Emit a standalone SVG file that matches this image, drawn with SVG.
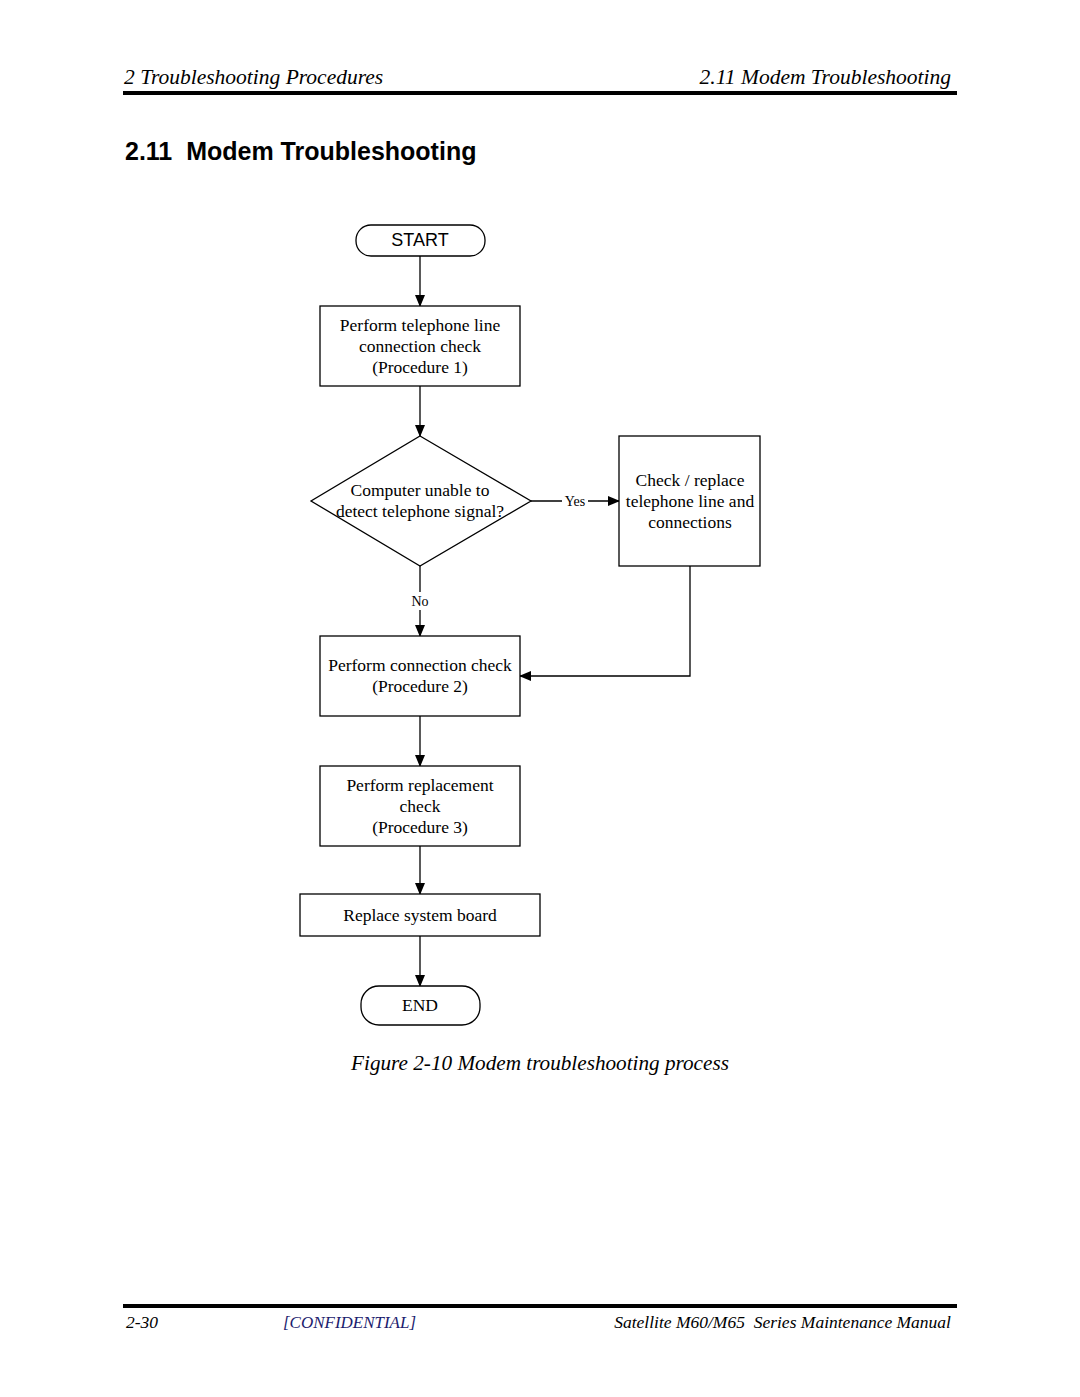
<svg xmlns="http://www.w3.org/2000/svg" width="1080" height="1397" viewBox="0 0 1080 1397">
<style>
.hdr{font-family:"Liberation Serif","Times New Roman",serif;font-style:italic;font-size:21.5px;fill:#000}
.cap{font-family:"Liberation Serif","Times New Roman",serif;font-style:italic;font-size:21.2px;fill:#000}
.ttl{font-family:"Liberation Sans",Arial,sans-serif;font-weight:bold;font-size:25px;fill:#000}
.box{fill:#fff;stroke:#000;stroke-width:1.3}
.t{font-family:"Liberation Serif","Times New Roman",serif;font-size:17.5px;fill:#000;text-anchor:middle}
.ts{font-family:"Liberation Sans",Arial,sans-serif;font-size:18px;fill:#000;text-anchor:middle}
.lbl{font-family:"Liberation Serif","Times New Roman",serif;font-size:14px;fill:#000;text-anchor:middle}
.ln{fill:none;stroke:#000;stroke-width:1.3}
.ftr{font-family:"Liberation Serif","Times New Roman",serif;font-style:italic;font-size:17.5px;fill:#000}
</style>
<defs>
<marker id="ah" markerWidth="12" markerHeight="10" refX="11" refY="5" orient="auto" markerUnits="userSpaceOnUse">
<path d="M0,0 L12,5 L0,10 z" fill="#000"/>
</marker>
</defs>
<rect width="1080" height="1397" fill="#fff"/>
<g id="header">
<text class="hdr" x="124" y="84">2 Troubleshooting Procedures</text>
<text class="hdr" x="951" y="84" text-anchor="end">2.11 Modem Troubleshooting</text>
<rect x="123" y="91" width="834" height="4" fill="#000"/>
</g>
<text class="ttl" x="125" y="160" xml:space="preserve">2.11  Modem Troubleshooting</text>
<g id="connectors">
<line class="ln" x1="420" y1="256" x2="420" y2="306" marker-end="url(#ah)"/>
<line class="ln" x1="420" y1="386" x2="420" y2="436" marker-end="url(#ah)"/>
<line class="ln" x1="531" y1="501" x2="619" y2="501" marker-end="url(#ah)"/>
<rect x="562" y="493" width="26" height="16" fill="#fff"/>
<text class="lbl" x="575" y="506">Yes</text>
<line class="ln" x1="420" y1="566" x2="420" y2="636" marker-end="url(#ah)"/>
<rect x="408" y="592" width="24" height="18" fill="#fff"/>
<text class="lbl" x="420" y="606">No</text>
<polyline class="ln" points="690,566 690,676 520,676" marker-end="url(#ah)"/>
<line class="ln" x1="420" y1="716" x2="420" y2="766" marker-end="url(#ah)"/>
<line class="ln" x1="420" y1="846" x2="420" y2="894" marker-end="url(#ah)"/>
<line class="ln" x1="420" y1="936" x2="420" y2="986" marker-end="url(#ah)"/>
</g>
<g id="start">
<rect class="box" x="356" y="225" width="129" height="31" rx="15" ry="15"/>
<text class="ts" x="420" y="246">START</text>
</g>
<g id="proc1">
<rect class="box" x="320" y="306" width="200" height="80"/>
<text class="t" x="420" y="331">Perform telephone line</text>
<text class="t" x="420" y="352">connection check</text>
<text class="t" x="420" y="373">(Procedure 1)</text>
</g>
<g id="decision">
<polygon class="box" points="420,436 531,501 420,566 311,501"/>
<text class="t" x="420" y="496">Computer unable to</text>
<text class="t" x="420" y="517">detect telephone signal?</text>
</g>
<g id="check">
<rect class="box" x="619" y="436" width="141" height="130"/>
<text class="t" x="690" y="486">Check / replace</text>
<text class="t" x="690" y="507">telephone line and</text>
<text class="t" x="690" y="528">connections</text>
</g>
<g id="proc2">
<rect class="box" x="320" y="636" width="200" height="80"/>
<text class="t" x="420" y="671">Perform connection check</text>
<text class="t" x="420" y="692">(Procedure 2)</text>
</g>
<g id="proc3">
<rect class="box" x="320" y="766" width="200" height="80"/>
<text class="t" x="420" y="791">Perform replacement</text>
<text class="t" x="420" y="812">check</text>
<text class="t" x="420" y="833">(Procedure 3)</text>
</g>
<g id="replace">
<rect class="box" x="300" y="894" width="240" height="42"/>
<text class="t" x="420" y="921">Replace system board</text>
</g>
<g id="end">
<rect class="box" x="361" y="986" width="119" height="39" rx="18" ry="18"/>
<text class="t" x="420" y="1011">END</text>
</g>
<text class="cap" x="540" y="1070" text-anchor="middle">Figure 2-10 Modem troubleshooting process</text>
<g id="footer">
<rect x="123" y="1304" width="834" height="4" fill="#000"/>
<text class="ftr" x="126" y="1328">2-30</text>
<text class="ftr" x="283" y="1328" style="fill:#1c1c6e" textLength="133" lengthAdjust="spacingAndGlyphs">[CONFIDENTIAL]</text>
<text class="ftr" x="951" y="1328" text-anchor="end" xml:space="preserve">Satellite M60/M65  Series Maintenance Manual</text>
</g>
</svg>
